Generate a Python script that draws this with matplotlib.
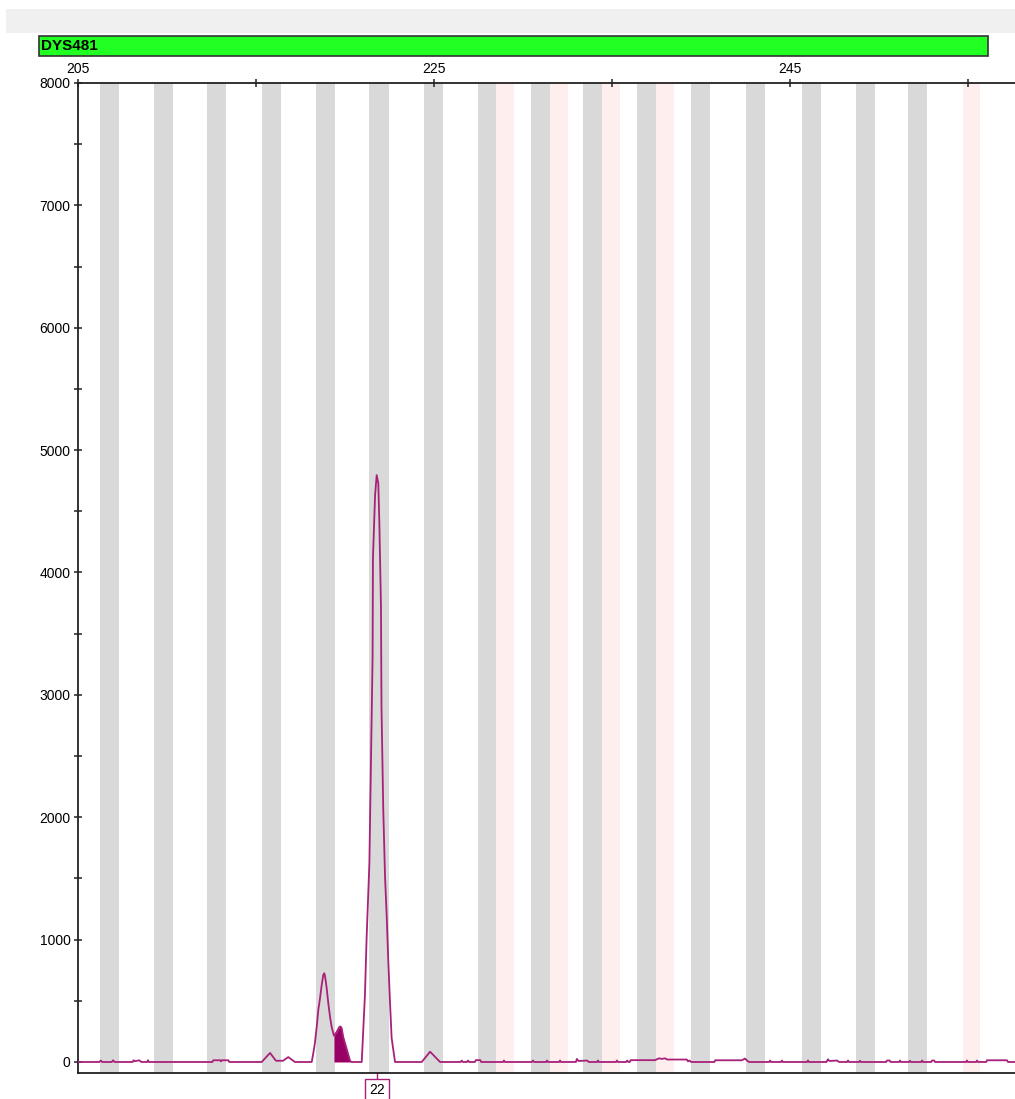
import numpy as np
import matplotlib.pyplot as plt
from matplotlib.patches import Rectangle
from matplotlib.ticker import MultipleLocator, FixedLocator
import matplotlib.transforms as mtransforms

plt.rcParams['font.family'] = ['Liberation Sans', 'DejaVu Sans']

marker_name = 'DYS481'
allele_label = '22'
allele_bp = 221.8

# bins (centres, bp)
bin_centres = [206.77, 209.80, 212.78, 215.87, 218.90, 221.91, 224.97, 227.98,
               230.96, 233.93, 236.94, 239.97, 243.06, 246.21, 249.24, 252.16]
virtual_bin_centres = [228.99, 232.02, 234.94, 237.98, 255.20]

# trace (size in bp, height in RFU)
trace_bp = [205.0, 206.2, 206.28, 206.36, 206.9, 206.97, 207.05,
            208.07, 208.12, 208.2, 208.45, 208.55, 208.88, 208.93, 208.98,
            212.55, 212.6, 213.0, 213.03, 213.08, 213.45, 213.5,
            215.32, 215.79, 216.12, 216.52, 216.81, 217.19,
            218.13, 218.22, 218.31, 218.41, 218.50, 218.60, 218.69, 218.78, 218.84,
            218.88, 218.97, 219.06, 219.16, 219.25, 219.38, 219.53, 219.68, 219.75,
            219.81, 219.90, 220.06, 220.19, 220.28, 220.35,
            220.94, 221.12, 221.21, 221.37, 221.46, 221.55, 221.57, 221.69, 221.78,
            221.87, 221.93, 222.02, 222.05, 222.15, 222.25, 222.34, 222.43, 222.53,
            222.62, 222.81,
            224.31, 224.78, 225.34,
            226.5, 226.56, 226.62, 226.85, 226.91, 226.97, 227.3, 227.35, 227.6, 227.65,
            228.88, 228.93, 228.98, 230.5, 230.56, 230.62, 231.3, 231.35, 231.4,
            232.03, 232.08, 232.13, 232.97, 233.03, 233.12, 233.6, 233.7,
            234.16, 234.21, 234.26, 235.23, 235.28, 235.33, 235.8, 235.86, 235.92,
            236.0, 236.05, 237.42, 237.64, 237.8, 237.98, 238.1, 238.82, 239.2, 239.27,
            239.35, 239.45,
            240.75, 240.8, 242.3, 242.47, 242.6, 242.7,
            243.83, 243.88, 243.93, 244.5, 244.55, 244.6, 245.96, 246.01, 246.06,
            247.05, 247.13, 247.22, 247.65, 247.75, 248.21, 248.26, 248.31,
            248.88, 248.93, 248.98, 250.4, 250.45, 250.6, 250.65,
            251.13, 251.18, 251.23, 251.69, 251.74, 251.79, 252.37, 252.42, 252.47,
            252.93, 252.98, 253.1, 253.15, 254.89, 254.94, 254.99,
            255.46, 255.51, 255.56, 256.02, 256.07, 257.19, 257.25, 257.7]
trace_rfu = [0, 0, 12, 0, 0, 14, 0,
             0, 14, 6, 14, 0, 0, 14, 0,
             0, 14, 14, 5, 14, 14, 0,
             0, 74, 10, 10, 40, 0,
             0, 73, 155, 286, 425, 523, 629, 711, 725,
             700, 604, 482, 368, 286, 215, 245, 286, 290,
             278, 204, 123, 57, 12, 0,
             0, 547, 997, 1626, 2443, 3309, 4118, 4632, 4796,
             4730, 4404, 3734, 2900, 2059, 1511, 1201, 833, 482,
             196, 0,
             0, 84, 0,
             0, 12, 0, 0, 12, 0, 0, 15, 15, 0,
             0, 12, 0, 0, 12, 0, 0, 12, 0,
             0, 12, 0, 0, 25, 8, 12, 0,
             0, 12, 0, 0, 12, 0, 0, 12, 0,
             0, 15, 15, 30, 25, 30, 20, 20, 20, 5,
             12, 0,
             0, 14, 14, 28, 10, 0,
             0, 12, 0, 0, 12, 0, 0, 12, 0,
             0, 22, 8, 12, 0, 0, 12, 0,
             0, 10, 0, 0, 12, 12, 0,
             0, 12, 0, 0, 10, 0, 0, 12, 0,
             0, 12, 12, 0, 0, 12, 0,
             0, 12, 0, 0, 14, 14, 0, 0]

# shaded (called) area of the small peak
fill_from, fill_to = 219.38, 220.30

W, H = 1015, 1099
fig = plt.figure(figsize=(W / 100, H / 100), dpi=100)


def fx(x):
    return x / W


def fy(y):
    return 1 - y / H


# header strip and marker bar
fig.add_artist(Rectangle((fx(6), fy(33)), fx(1009), 24 / H, transform=fig.transFigure,
                         fc='#f0f0f0', ec='none'))
fig.add_artist(Rectangle((fx(39), fy(56)), fx(949), 20 / H, transform=fig.transFigure,
                         fc='#22ff22', ec='#333333', lw=1.2))
fig.text(fx(41), fy(46.5), marker_name, fontsize=11, fontweight='bold', va='center',
         ha='left', color='black')

ax = fig.add_axes([fx(78), fy(1073), fx(1015 - 78), (1073 - 83) / H])
ax.set_xlim(205, 205 + (1015 - 78) / 17.8)
ax.set_ylim(-90, 8000)

for c in bin_centres:
    ax.axvspan(c - 0.535, c + 0.535, color='#d9d9d9', lw=0, zorder=0)
for c in virtual_bin_centres:
    ax.axvspan(c - 0.5, c + 0.5, color='#ffeeee', lw=0, zorder=0)

bp = np.array(trace_bp)
rfu = np.array(trace_rfu)
ax.plot(bp, rfu, color='#a8207a', lw=1.3, zorder=3)
ax.fill_between(bp, 0, rfu, where=(bp >= fill_from) & (bp <= fill_to),
                color='#990066', lw=0, zorder=2)

# axes styling
ax.xaxis.tick_top()
ax.xaxis.set_major_locator(FixedLocator([205, 225, 245]))
ax.xaxis.set_minor_locator(FixedLocator([215, 235, 255]))
ax.yaxis.set_major_locator(MultipleLocator(1000))
ax.yaxis.set_minor_locator(FixedLocator(np.arange(500, 8000, 1000)))
ax.tick_params(axis='both', which='both', direction='inout', length=5.5, width=1.1,
               color='#222222', labelsize=10, pad=2.5)
ax.tick_params(axis='y', which='both', right=False)
ax.tick_params(axis='x', which='both', bottom=False)
ax.spines['right'].set_visible(False)
for s in ['top', 'left', 'bottom']:
    ax.spines[s].set_color('#222222')
    ax.spines[s].set_linewidth(1.3)

# allele call label under the peak
trans = mtransforms.blended_transform_factory(ax.transData, ax.transAxes)
ax.plot([allele_bp, allele_bp], [0, -7 / 990], transform=trans, color='#a8207a',
        lw=1, clip_on=False)
ax.text(allele_bp, -17.5 / 990, allele_label, transform=trans, ha='center', va='center',
        fontsize=10, clip_on=False,
        bbox=dict(boxstyle='square,pad=0.3', fc='white', ec='#a8207a', lw=1))

fig.savefig('out.png', dpi=100)
